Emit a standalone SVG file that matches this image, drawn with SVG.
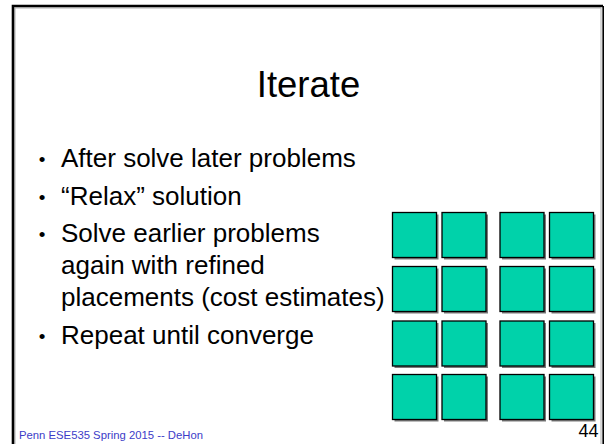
<svg xmlns="http://www.w3.org/2000/svg" width="605" height="444" viewBox="0 0 605 444">
<style>
.t{font-family:"Liberation Sans",Arial,sans-serif;fill:#000}
.b{font-size:26px}
.d{font-size:19px}
.sq{fill:#00D2AA;stroke:#000;stroke-width:1.3}
.sh{fill:#7a7a7a}
</style>
<rect width="605" height="444" fill="#fff"/>
<g id="frame">
<path d="M15 450 V8 H601 V450" fill="none" stroke="#b0b0b0" stroke-width="1"/>
<path d="M13 450 V6 H603" fill="none" stroke="#000" stroke-width="2.6"/>
<path d="M603.2 6 V450" fill="none" stroke="#000" stroke-width="1.6"/>
</g>
<g id="title"><text class="t" x="308.5" y="96.5" font-size="36.5" text-anchor="middle">Iterate</text></g>
<g id="bullets" class="t b">
<text class="d" x="42" y="166" text-anchor="middle">•</text>
<text x="61" y="167">After solve later problems</text>
<text class="d" x="42" y="203.5" text-anchor="middle">•</text>
<text x="61" y="204.5">“Relax” solution</text>
<text class="d" x="42" y="241.3" text-anchor="middle">•</text>
<text x="61" y="242.3">Solve earlier problems</text>
<text x="61" y="274.3">again with refined</text>
<text x="61" y="306">placements (cost estimates)</text>
<text class="d" x="42" y="342.5" text-anchor="middle">•</text>
<text x="61" y="343.5">Repeat until converge</text>
</g>
<g id="grid">
<g class="sh">
<rect x="394.5" y="214.5" width="44" height="45"/><rect x="444" y="214.5" width="44" height="45"/><rect x="502" y="214.5" width="44" height="45"/><rect x="551.5" y="214.5" width="44" height="45"/>
<rect x="394.5" y="268.5" width="44" height="45"/><rect x="444" y="268.5" width="44" height="45"/><rect x="502" y="268.5" width="44" height="45"/><rect x="551.5" y="268.5" width="44" height="45"/>
<rect x="394.5" y="323" width="44" height="45"/><rect x="444" y="323" width="44" height="45"/><rect x="502" y="323" width="44" height="45"/><rect x="551.5" y="323" width="44" height="45"/>
<rect x="394.5" y="376.5" width="44" height="45"/><rect x="444" y="376.5" width="44" height="45"/><rect x="502" y="376.5" width="44" height="45"/><rect x="551.5" y="376.5" width="44" height="45"/>
</g>
<g id="r1"><rect class="sq" x="392.5" y="212.5" width="44" height="45"/><rect class="sq" x="442" y="212.5" width="44" height="45"/><rect class="sq" x="500" y="212.5" width="44" height="45"/><rect class="sq" x="549.5" y="212.5" width="44" height="45"/></g>
<g id="r2"><rect class="sq" x="392.5" y="266.5" width="44" height="45"/><rect class="sq" x="442" y="266.5" width="44" height="45"/><rect class="sq" x="500" y="266.5" width="44" height="45"/><rect class="sq" x="549.5" y="266.5" width="44" height="45"/></g>
<g id="r3"><rect class="sq" x="392.5" y="321" width="44" height="45"/><rect class="sq" x="442" y="321" width="44" height="45"/><rect class="sq" x="500" y="321" width="44" height="45"/><rect class="sq" x="549.5" y="321" width="44" height="45"/></g>
<g id="r4"><rect class="sq" x="392.5" y="374.5" width="44" height="45"/><rect class="sq" x="442" y="374.5" width="44" height="45"/><rect class="sq" x="500" y="374.5" width="44" height="45"/><rect class="sq" x="549.5" y="374.5" width="44" height="45"/></g>
</g>
<g id="footer">
<text class="t" x="19" y="438.5" font-size="11.3" style="fill:#3c3cc8">Penn ESE535 Spring 2015 -- DeHon</text>
<text class="t" x="598.5" y="436.5" font-size="18" text-anchor="end">44</text>
</g>
</svg>
